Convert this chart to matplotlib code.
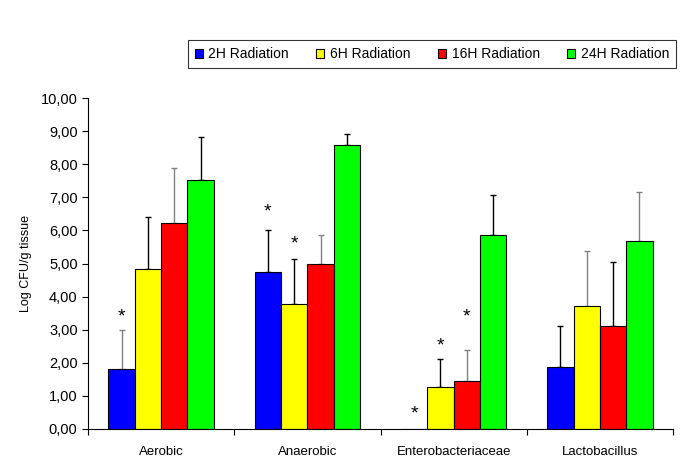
import matplotlib
matplotlib.use("Agg")
import matplotlib.pyplot as plt
import numpy as np

plt.rcParams['font.family'] = ['Liberation Sans', 'DejaVu Sans']

# data
categories = ["Aerobic", "Anaerobic", "Enterobacteriaceae", "Lactobacillus"]
series = ["2H Radiation", "6H Radiation", "16H Radiation", "24H Radiation"]
colors = ["#0000ff", "#ffff00", "#ff0000", "#00ff00"]

means = [
    [1.81, 4.73, 0.00, 1.88],   # 2H
    [4.82, 3.78, 1.26, 3.71],   # 6H
    [6.22, 4.99, 1.45, 3.12],   # 16H
    [7.54, 8.58, 5.85, 5.68],   # 24H
]
errors = [
    [1.18, 1.27, 0.00, 1.24],
    [1.58, 1.35, 0.84, 1.68],
    [1.68, 0.86, 0.93, 1.93],
    [1.27, 0.35, 1.22, 1.47],
]
# error bar colour (some are grey in the original)
err_colors = [
    ["#808080", "black", None, "black"],
    ["black", "black", "black", "#808080"],
    ["#808080", "#808080", "#808080", "black"],
    ["black", "black", "black", "#808080"],
]
# asterisks: (category index, series index, y position)
stars = [(0, 0, 3.40), (1, 0, 6.55), (1, 1, 5.60),
         (2, 0, 0.45), (2, 1, 2.50), (2, 2, 3.40)]

fig = plt.figure(figsize=(6.85, 4.74), dpi=100)
ax = fig.add_axes([0.1285, 0.095, 0.854, 0.698])

x = np.arange(len(categories))
width = 0.18
offsets = [-1.5 * width, -0.5 * width, 0.5 * width, 1.5 * width]

for j in range(len(series)):
    ax.bar(x + offsets[j], means[j], width, color=colors[j], edgecolor="black",
           linewidth=0.8, label=series[j], zorder=2)
    for i in range(len(categories)):
        if errors[j][i] > 0:
            ax.errorbar(x[i] + offsets[j], means[j][i], yerr=[[0], [errors[j][i]]],
                        fmt="none", ecolor=err_colors[j][i], elinewidth=1,
                        capsize=2.5, capthick=1, zorder=1)

for ci, si, yy in stars:
    ax.text(x[ci] + offsets[si], yy, "*", ha="center", va="center", fontsize=14)

ax.set_xlim(-0.5, 3.5)
ax.set_ylim(0, 10)
yt = np.arange(0, 11, 1)
ax.set_yticks(yt)
ax.set_yticklabels([("%.2f" % v).replace(".", ",") for v in yt])
ax.set_xticks([-0.5, 0.5, 1.5, 2.5, 3.5])
ax.set_xticklabels([])
ax.set_xticks(x, minor=True)
ax.set_xticklabels(categories, minor=True)
ax.tick_params(axis="x", which="minor", length=0, pad=12, labelsize=9.5)
ax.tick_params(axis="x", which="major", length=4, direction="out")
ax.tick_params(axis="y", length=4, direction="out", labelsize=10.5)
ax.spines["top"].set_visible(False)
ax.spines["right"].set_visible(False)
ax.set_ylabel("Log CFU/g tissue", fontsize=9, labelpad=6)

leg = ax.legend(loc="upper right", bbox_to_anchor=(1.005, 1.175), ncol=4,
                fontsize=10, frameon=True, fancybox=False, edgecolor="black",
                handlelength=0.6, handleheight=0.6, handletextpad=0.4,
                columnspacing=1.95, borderpad=0.5, borderaxespad=0)
leg.get_frame().set_linewidth(0.8)

fig.savefig("out.png", dpi=100)
